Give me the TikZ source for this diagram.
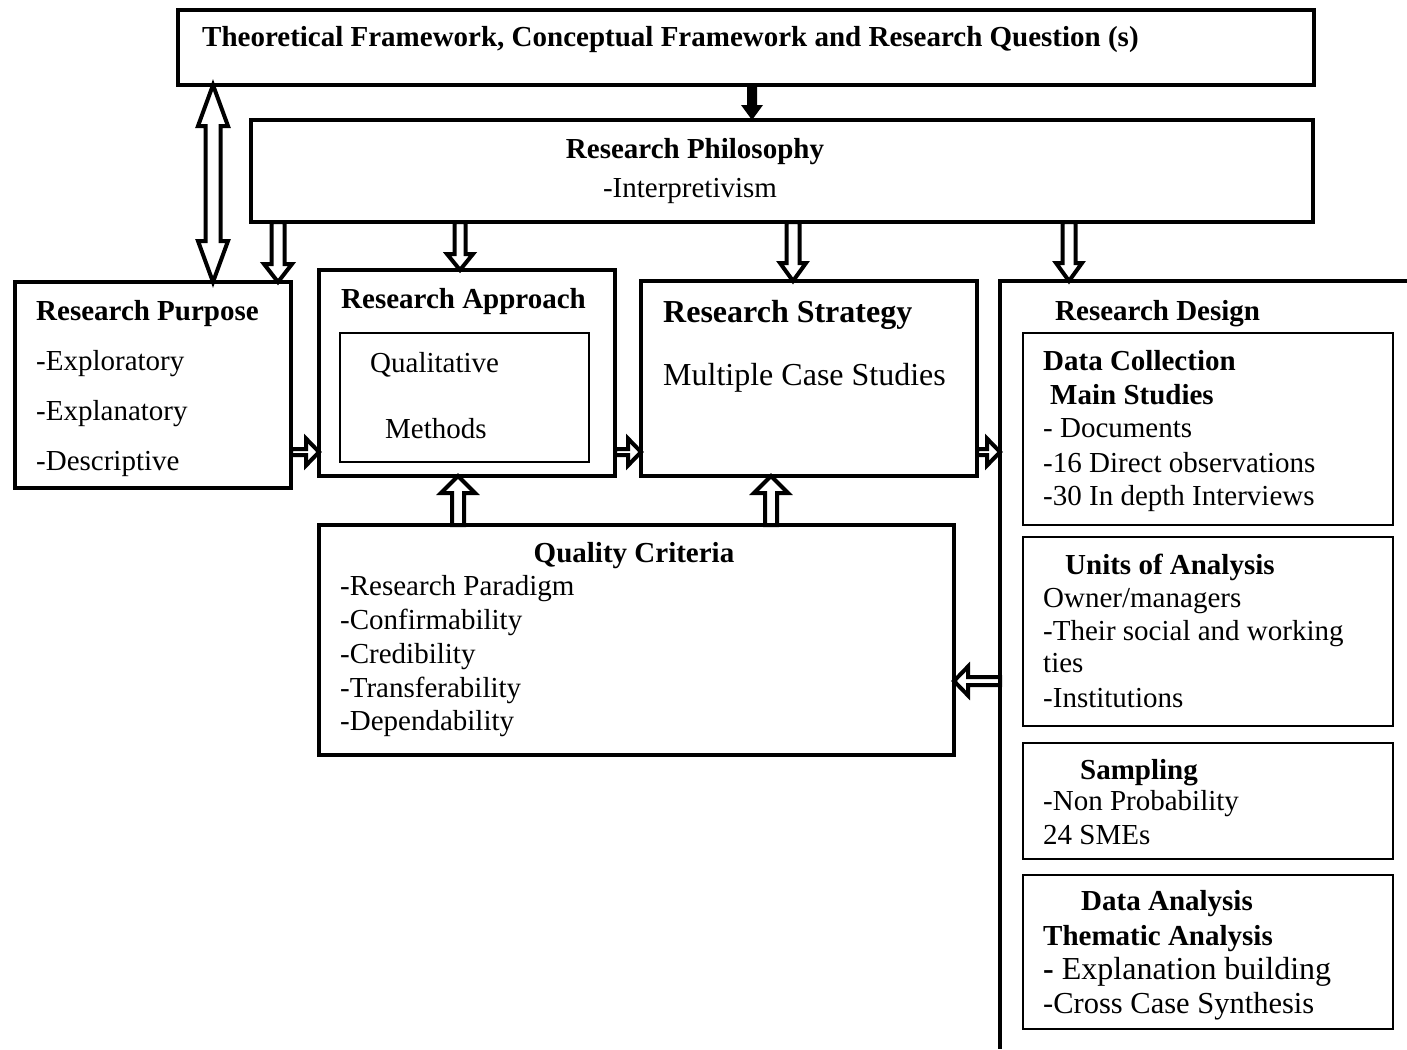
\documentclass[tikz,border=0pt]{standalone}
\usepackage{fontspec}
\setmainfont{Liberation Serif}
\usetikzlibrary{calc}
\begin{document}
\begin{tikzpicture}[x=1pt,y=-1pt,
  box/.style={draw, line width=4pt, fill=white, inner sep=0pt, outer sep=0pt, anchor=north west},
  subbox/.style={draw, line width=2pt, inner sep=0pt, outer sep=0pt, anchor=north west},
  txt/.style={anchor=base west, inner sep=0pt, font=\fontsize{29}{34}\selectfont},
  btxt/.style={anchor=base west, inner sep=0pt, font=\fontsize{29}{34}\selectfont\bfseries},
  bigtxt/.style={anchor=base west, inner sep=0pt, font=\fontsize{32}{38}\selectfont},
  hollow/.style={draw, fill=white, line width=4pt, line join=miter, miter limit=20},
  smallhollow/.style={draw, fill=white, line width=4pt, line join=miter, miter limit=20},
  solidarrow/.style={fill=black, draw=none},
  % block arrow pointing down, drawn at the x of the start point
  down arrow/.style n args={3}{to path={let \p1=(\tikztostart), \p2=(\tikztotarget) in
    (\x1-#1,\y1) -- (\x1-#1,\y2+#3) -- (\x1-#2,\y2+#3) -- (\x1,\y2)
    -- (\x1+#2,\y2+#3) -- (\x1+#1,\y2+#3) -- (\x1+#1,\y1) -- cycle}},
  up arrow/.style n args={3}{to path={let \p1=(\tikztostart), \p2=(\tikztotarget) in
    (\x1-#1,\y1) -- (\x1-#1,\y2-#3) -- (\x1-#2,\y2-#3) -- (\x1,\y2)
    -- (\x1+#2,\y2-#3) -- (\x1+#1,\y2-#3) -- (\x1+#1,\y1) -- cycle}},
  right arrow/.style n args={3}{to path={let \p1=(\tikztostart), \p2=(\tikztotarget) in
    (\x1,\y1-#1) -- (\x2-#3,\y1-#1) -- (\x2-#3,\y1-#2) -- (\x2,\y1)
    -- (\x2-#3,\y1+#2) -- (\x2-#3,\y1+#1) -- (\x1,\y1+#1) -- cycle}},
  left arrow/.style n args={3}{to path={let \p1=(\tikztostart), \p2=(\tikztotarget) in
    (\x1,\y1-#1) -- (\x2+#3,\y1-#1) -- (\x2+#3,\y1-#2) -- (\x2,\y1)
    -- (\x2+#3,\y1+#2) -- (\x2+#3,\y1+#1) -- (\x1,\y1+#1) -- cycle}},
  both arrow/.style n args={3}{to path={let \p1=(\tikztostart), \p2=(\tikztotarget) in
    (\x1,\y1) -- (\x1+#2,\y1-#3) -- (\x1+#1,\y1-#3) -- (\x1+#1,\y2+#3)
    -- (\x1+#2,\y2+#3) -- (\x1,\y2) -- (\x1-#2,\y2+#3) -- (\x1-#1,\y2+#3)
    -- (\x1-#1,\y1-#3) -- (\x1-#2,\y1-#3) -- cycle}},
]
\useasboundingbox[fill=white] (0,0) rectangle (1407,1049);

% ---- main boxes ----
\node[box, minimum width=1136pt, minimum height=75pt] (top) at (178,10) {};
\node[box, minimum width=1062pt, minimum height=102pt] (phil) at (251,120) {};
\node[box, minimum width=276pt, minimum height=206pt] (purpose) at (15,282) {};
\node[box, minimum width=296pt, minimum height=206pt] (approach) at (319,270) {};
\node[subbox, minimum width=249pt, minimum height=129pt] (method) at (340,333) {};
\node[box, minimum width=336pt, minimum height=195pt] (strategy) at (641,281) {};
\node[box, minimum width=635pt, minimum height=230pt] (quality) at (319,525) {};

% ---- research design frame and its boxes ----
\coordinate (design) at (1000,281);
\draw[line width=4pt] (1407,281) -- (design) -- (1000,1049);
\node[subbox, minimum width=370pt, minimum height=192pt] (collect) at (1023,333) {};
\node[subbox, minimum width=370pt, minimum height=189pt] (units) at (1023,537) {};
\node[subbox, minimum width=370pt, minimum height=116pt] (sampling) at (1023,743) {};
\node[subbox, minimum width=370pt, minimum height=154pt] (analysis) at (1023,875) {};

% ---- texts ----
\node[btxt] (t0) at (202,47) {Theoretical Framework, Conceptual Framework and Research Question (s)};
\node[btxt, anchor=base] (ph1) at (695,158) {Research Philosophy};
\node[txt, anchor=base] (ph2) at (690,197) {-Interpretivism};

\node[btxt] (pu0) at (36,320) {Research Purpose};
\node[txt] (pu1) at (36,370) {-Exploratory};
\node[txt] (pu2) at (36,420) {-Explanatory};
\node[txt] (pu3) at (36,470) {-Descriptive};

\node[btxt] (ap0) at (341,308) {Research Approach};
\node[txt] (ap1) at (370,372) {Qualitative};
\node[txt] (ap2) at (385,438) {Methods};

\node[bigtxt, font=\fontsize{32}{38}\selectfont\bfseries] (st0) at (663,322) {Research Strategy};
\node[bigtxt] (st1) at (663,385) {Multiple Case Studies};

\node[btxt, anchor=base] (qc0) at (634,562) {Quality Criteria};
\node[txt] (qc1) at (340,595) {-Research Paradigm};
\node[txt] (qc2) at (340,629) {-Confirmability};
\node[txt] (qc3) at (340,663) {-Credibility};
\node[txt] (qc4) at (340,697) {-Transferability};
\node[txt] (qc5) at (340,730) {-Dependability};

\node[btxt] (rd0) at (1055,320) {Research Design};
\node[btxt] (dc0) at (1043,370) {Data Collection};
\node[btxt] (dc1) at (1050,404) {Main Studies};
\node[txt] (dc2) at (1043,437) {- Documents};
\node[txt] (dc3) at (1043,472) {-16 Direct observations};
\node[txt] (dc4) at (1043,505) {-30 In depth Interviews};

\node[btxt] (ua0) at (1065,574) {Units of Analysis};
\node[txt] (ua1) at (1043,607) {Owner/managers};
\node[txt] (ua2) at (1043,640) {-Their social and working};
\node[txt] (ua3) at (1043,672) {ties};
\node[txt] (ua4) at (1043,707) {-Institutions};

\node[btxt] (sa0) at (1080,779) {Sampling};
\node[txt] (sa1) at (1043,810) {-Non Probability};
\node[txt] (sa2) at (1043,844) {24 SMEs};

\node[btxt] (da0) at (1081,910) {Data Analysis};
\node[btxt] (da1) at (1043,945) {Thematic Analysis};
\node[bigtxt] (da2) at (1043,979) {{\bfseries -} Explanation building};
\node[txt, font=\fontsize{30.5}{34}\selectfont] (da3) at (1043,1013) {-Cross Case Synthesis};

% ---- connectors ----
\path[solidarrow] (752,0 |- top.south) to[down arrow={5pt}{11pt}{15pt}] (752,0 |- phil.north);
\path[hollow] (213,0 |- top.south) to[both arrow={7.5pt}{15pt}{41pt}] (213,0 |- purpose.north);

\path[hollow] (278,0 |- phil.south) to[down arrow={6.5pt}{14pt}{18pt}] (278,0 |- purpose.north);
\path[hollow] (460,0 |- phil.south) to[down arrow={5.5pt}{13pt}{16pt}] (460,0 |- approach.north);
\path[hollow] (793,0 |- phil.south) to[down arrow={6.5pt}{13pt}{18pt}] (793,0 |- strategy.north);
\path[hollow] (1069,0 |- phil.south) to[down arrow={6.5pt}{13pt}{18pt}] (1069,0 |- design);

\path[hollow] (458,0 |- quality.north) to[up arrow={6pt}{17pt}{17pt}] (458,0 |- approach.south);
\path[hollow] (771,0 |- quality.north) to[up arrow={6pt}{17pt}{17pt}] (771,0 |- strategy.south);

\path[smallhollow] (purpose.east |- 0,452) to[right arrow={3pt}{13.5pt}{13pt}] (approach.west |- 0,452);
\path[smallhollow] (approach.east |- 0,452) to[right arrow={3pt}{13.5pt}{13pt}] (strategy.west |- 0,452);
\path[smallhollow] (strategy.east |- 0,452) to[right arrow={3pt}{13.5pt}{13pt}] (design |- 0,452);
\path[smallhollow] (design |- 0,681) to[left arrow={4pt}{14.5pt}{14pt}] (quality.east |- 0,681);
\end{tikzpicture}
\end{document}
